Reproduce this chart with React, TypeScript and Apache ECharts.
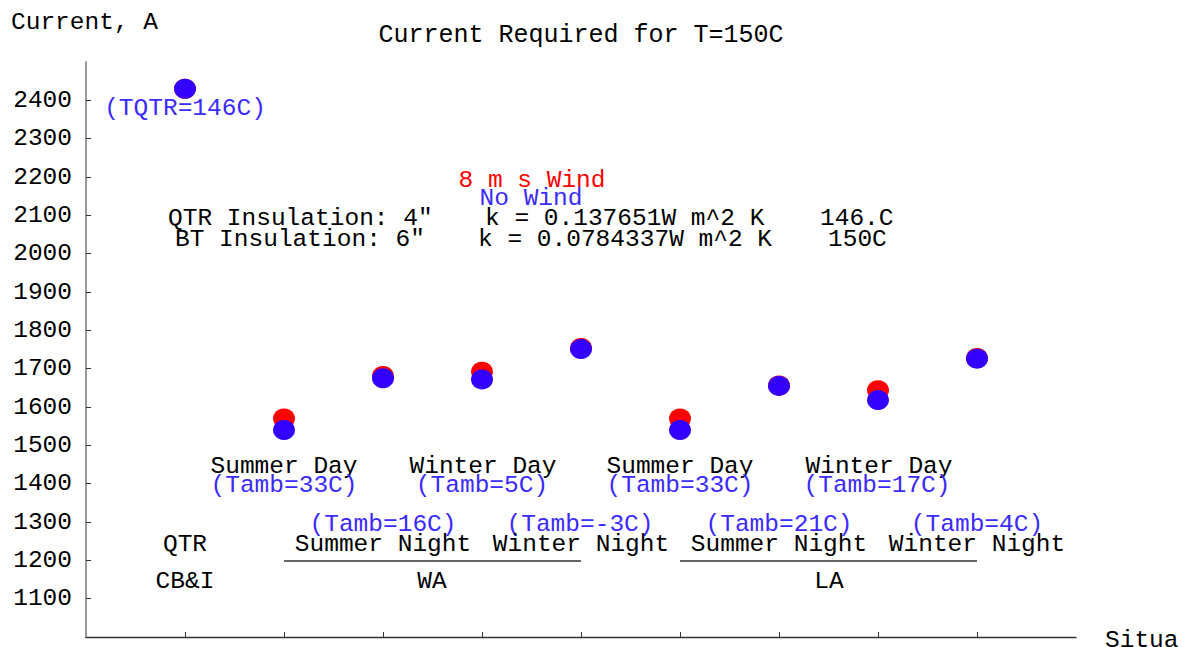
import React, { useEffect, useRef } from "react";
import * as echarts from "echarts";

// Situation positions along the x axis
const positions = [1, 2, 3, 4, 5, 6, 7, 8, 9];
// Current required (A), 8 m/s wind
const windCurrent = [2430, 1570, 1681, 1692, 1754, 1570, 1656, 1644, 1728];
// Current required (A), no wind
const noWindCurrent = [2430, 1540, 1675, 1672, 1751, 1540, 1655, 1618, 1726];
// Y tick values
const yTicks = [1100, 1200, 1300, 1400, 1500, 1600, 1700, 1800, 1900, 2000, 2100, 2200, 2300, 2400];

const RED = "#ff0000";
const BLUE = "#3300ff";
const TBLUE = "#3b2bff";
const FONT = '"Liberation Mono", "Courier New", monospace';
const FS = 24.5;

function txt(text: string, x: number, y: number, fill = "#000", align = "center", fs = FS) {
  return {
    type: "text",
    x,
    y,
    silent: true,
    style: {
      text,
      fill,
      fontFamily: FONT,
      fontSize: fs,
      align,
      verticalAlign: "middle",
    },
  };
}

export default function App() {
  const ref = useRef<HTMLDivElement>(null);
  useEffect(() => {
    const chart = echarts.init(ref.current!, null, { renderer: "svg" });
    const toPairs = (vals: number[]) => positions.map((p, i) => [p, vals[i]]);
    const graphic: any[] = [
      txt("Current, A", 11, 22, "#000", "left"),
      txt("Current Required for T=150C", 581, 35, "#000", "center", 25),
      txt("(TQTR=146C)", 185, 108, TBLUE),
      txt("8 m s Wind", 532, 180, RED),
      txt("No Wind", 531, 198, TBLUE),
      txt('QTR Insulation: 4"', 168, 218, "#000", "left"),
      txt("k = 0.137651W m^2 K", 485, 218, "#000", "left"),
      txt("146.C", 820, 218, "#000", "left"),
      txt('BT Insulation: 6"', 175, 239, "#000", "left"),
      txt("k = 0.0784337W m^2 K", 478, 239, "#000", "left"),
      txt("150C", 828, 239, "#000", "left"),
      txt("Summer Day", 284, 466),
      txt("(Tamb=33C)", 284, 485, TBLUE),
      txt("Winter Day", 483, 466),
      txt("(Tamb=5C)", 482, 485, TBLUE),
      txt("Summer Day", 680, 466),
      txt("(Tamb=33C)", 680, 485, TBLUE),
      txt("Winter Day", 879, 466),
      txt("(Tamb=17C)", 877, 485, TBLUE),
      txt("(Tamb=16C)", 383, 524, TBLUE),
      txt("(Tamb=-3C)", 580, 524, TBLUE),
      txt("(Tamb=21C)", 779, 524, TBLUE),
      txt("(Tamb=4C)", 977, 524, TBLUE),
      txt("QTR", 185, 544),
      txt("Summer Night", 383, 544),
      txt("Winter Night", 581, 544),
      txt("Summer Night", 779, 544),
      txt("Winter Night", 977, 544),
      txt("CB&I", 185, 581),
      txt("WA", 432, 581),
      txt("LA", 829, 581),
      txt("Situa", 1105, 640, "#000", "left"),
      {
        type: "line",
        silent: true,
        shape: { x1: 284, y1: 561, x2: 581, y2: 561 },
        style: { stroke: "#333", lineWidth: 1.3 },
      },
      {
        type: "line",
        silent: true,
        shape: { x1: 680, y1: 561, x2: 977, y2: 561 },
        style: { stroke: "#333", lineWidth: 1.3 },
      },
    ];
    chart.setOption({
      animation: false,
      backgroundColor: "#fff",
      grid: { left: 86, right: 107, top: 62, bottom: 10, containLabel: false, outerBoundsMode: "none" },
      xAxis: {
        type: "value",
        min: 0,
        max: 10,
        interval: 1,
        splitLine: { show: false },
        axisLine: { show: true, lineStyle: { color: "#333", width: 1.3 } },
        axisTick: {
          show: true,
          inside: true,
          length: 5,
          lineStyle: { color: "#333" },
          customValues: positions,
        },
        axisLabel: { show: false },
      },
      yAxis: {
        type: "value",
        min: 1000,
        max: 2500,
        interval: 100,
        splitLine: { show: false },
        axisLine: { show: true, lineStyle: { color: "#808080", width: 1.6 } },
        axisTick: {
          show: true,
          inside: true,
          length: 5,
          lineStyle: { color: "#333" },
          customValues: yTicks,
        },
        axisLabel: {
          show: true,
          margin: 14,
          color: "#000",
          fontFamily: FONT,
          fontSize: FS,
          customValues: yTicks,
          formatter: (v: number) => String(v),
        },
      },
      series: [
        {
          type: "scatter",
          name: "8 m s Wind",
          data: toPairs(windCurrent),
          symbol: "circle",
          symbolSize: [22, 20],
          itemStyle: { color: RED, opacity: 1 },
          silent: true,
        },
        {
          type: "scatter",
          name: "No Wind",
          data: toPairs(noWindCurrent),
          symbol: "circle",
          symbolSize: [22, 20],
          itemStyle: { color: BLUE, opacity: 1 },
          silent: true,
        },
      ],
      graphic,
    });
    return () => chart.dispose();
  }, []);
  return (
    <div
      ref={ref}
      style={{ position: "absolute", left: 0, top: 0, width: 1183, height: 647, background: "#fff" }}
    />
  );
}
